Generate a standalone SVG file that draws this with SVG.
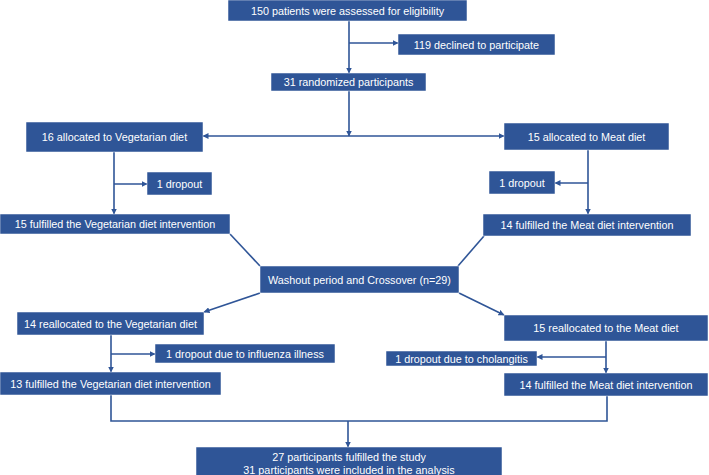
<svg xmlns="http://www.w3.org/2000/svg" width="709" height="475" viewBox="0 0 709 475">
<style>
.box{fill:#2F5597;stroke:#ffffff;stroke-width:0.5}
.t{fill:#ffffff;font-family:"Liberation Sans",Arial,sans-serif;font-size:10.8px;text-anchor:middle;dominant-baseline:central}
.c{fill:none;stroke:#2F5597;stroke-width:1.6}
</style>
<defs>
<marker id="ah" markerUnits="userSpaceOnUse" markerWidth="6" markerHeight="6" refX="5.5" refY="3" orient="auto">
<path d="M0,0 L6,3 L0,6 z" fill="#2F5597"/>
</marker>
</defs>
<rect width="709" height="475" fill="#ffffff"/>
<g id="connectors">
<line class="c" x1="349" y1="21" x2="349" y2="73" marker-end="url(#ah)"/>
<line class="c" x1="349" y1="43" x2="398" y2="43" marker-end="url(#ah)"/>
<line class="c" x1="349" y1="91" x2="349" y2="136" marker-end="url(#ah)"/>
<line class="c" x1="349" y1="136" x2="203" y2="136" marker-end="url(#ah)"/>
<line class="c" x1="349" y1="136" x2="504" y2="136" marker-end="url(#ah)"/>
<line class="c" x1="114" y1="152" x2="114" y2="214" marker-end="url(#ah)"/>
<line class="c" x1="114" y1="184" x2="147" y2="184" marker-end="url(#ah)"/>
<line class="c" x1="588" y1="150" x2="588" y2="214" marker-end="url(#ah)"/>
<line class="c" x1="588" y1="183" x2="555" y2="183" marker-end="url(#ah)"/>
<line class="c" x1="230" y1="234" x2="260" y2="266"/>
<line class="c" x1="484" y1="236" x2="458" y2="266"/>
<line class="c" x1="260" y1="293" x2="204" y2="312" marker-end="url(#ah)"/>
<line class="c" x1="459" y1="293" x2="504" y2="315" marker-end="url(#ah)"/>
<line class="c" x1="111" y1="335" x2="111" y2="372" marker-end="url(#ah)"/>
<line class="c" x1="111" y1="354" x2="155" y2="354" marker-end="url(#ah)"/>
<line class="c" x1="606" y1="341" x2="606" y2="373" marker-end="url(#ah)"/>
<line class="c" x1="606" y1="357" x2="537" y2="357" marker-end="url(#ah)"/>
<polyline class="c" points="111,395 111,421 607,421 607,396"/>
<line class="c" x1="348" y1="421" x2="348" y2="447" marker-end="url(#ah)"/>
</g>
<g id="n1"><rect class="box" x="228" y="0" width="239" height="21"/><text class="t" x="347.5" y="11">150 patients were assessed for eligibility</text></g>
<g id="n2"><rect class="box" x="398" y="34" width="157" height="21"/><text class="t" x="476.5" y="44.5">119 declined to participate</text></g>
<g id="n3"><rect class="box" x="271" y="73" width="155" height="18"/><text class="t" x="348.5" y="82">31 randomized participants</text></g>
<g id="n4"><rect class="box" x="26" y="122" width="177" height="30"/><text class="t" x="114.5" y="137">16 allocated to Vegetarian diet</text></g>
<g id="n5"><rect class="box" x="504" y="123" width="165" height="27"/><text class="t" x="586.5" y="136.5">15 allocated to Meat diet</text></g>
<g id="n6"><rect class="box" x="147" y="172" width="65" height="23"/><text class="t" x="179.5" y="183.5">1 dropout</text></g>
<g id="n7"><rect class="box" x="489" y="171" width="66" height="23"/><text class="t" x="522" y="182.5">1 dropout</text></g>
<g id="n8"><rect class="box" x="0" y="214" width="230" height="20"/><text class="t" x="115" y="224">15 fulfilled the Vegetarian diet intervention</text></g>
<g id="n9"><rect class="box" x="483" y="214" width="208" height="22"/><text class="t" x="587" y="225">14 fulfilled the Meat diet intervention</text></g>
<g id="n10"><rect class="box" x="260" y="266" width="199" height="27"/><text class="t" x="359.5" y="279.5">Washout period and Crossover (n=29)</text></g>
<g id="n11"><rect class="box" x="17" y="312" width="187" height="23"/><text class="t" x="110.5" y="323.5">14 reallocated to the Vegetarian diet</text></g>
<g id="n12"><rect class="box" x="155" y="344" width="180" height="19"/><text class="t" x="245" y="353.5">1 dropout due to influenza illness</text></g>
<g id="n13"><rect class="box" x="0" y="372" width="221" height="23"/><text class="t" x="110.5" y="383.5">13 fulfilled the Vegetarian diet intervention</text></g>
<g id="n14"><rect class="box" x="504" y="315" width="204" height="26"/><text class="t" x="606" y="328">15 reallocated to the Meat diet</text></g>
<g id="n15"><rect class="box" x="386" y="351" width="151" height="15"/><text class="t" x="461.5" y="358.5">1 dropout due to cholangitis</text></g>
<g id="n16"><rect class="box" x="504" y="373" width="204" height="23"/><text class="t" x="606" y="384.5">14 fulfilled the Meat diet intervention</text></g>
<g id="n17"><rect class="box" x="196" y="447" width="306" height="30"/><text class="t" x="349" y="456.5">27 participants fulfilled the study</text><text class="t" x="349" y="469.5">31 participants were included in the analysis</text></g>
</svg>
